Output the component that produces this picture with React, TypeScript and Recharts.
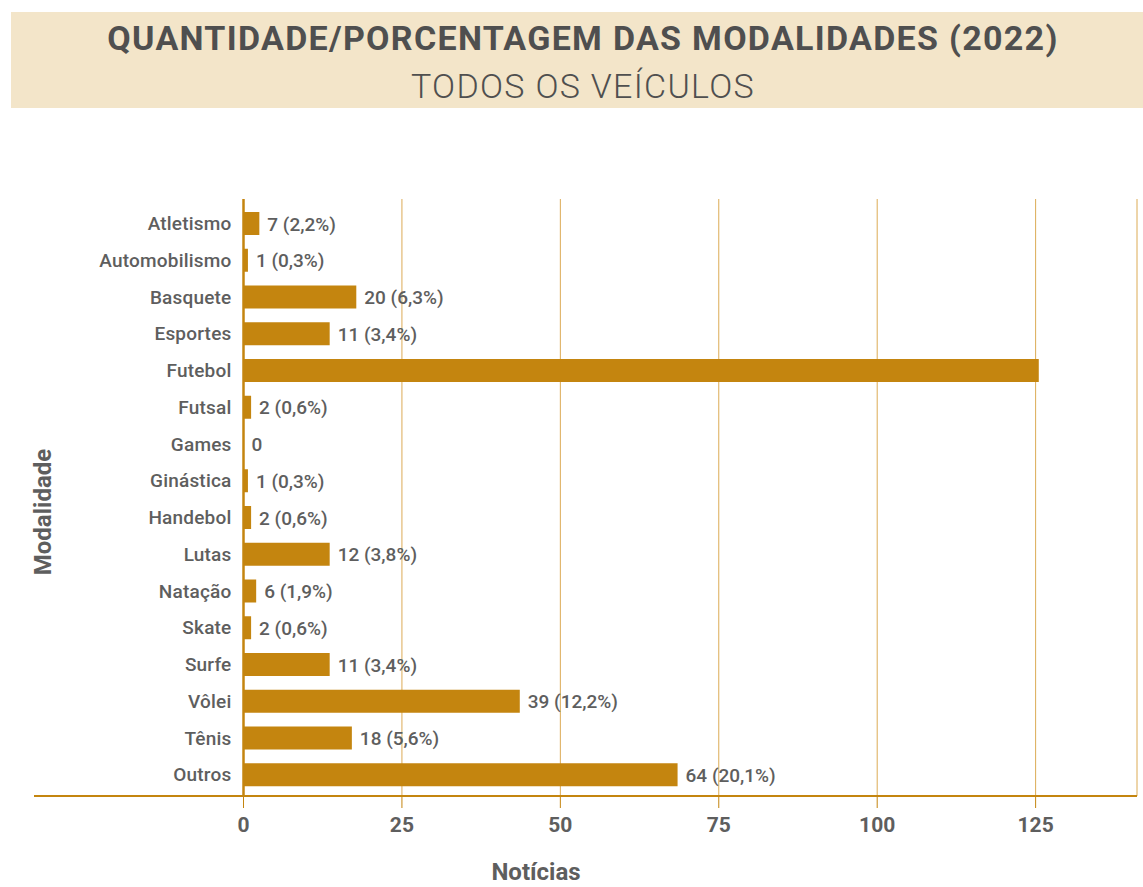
import { Bar, BarChart, CartesianGrid, Rectangle, XAxis, YAxis } from "recharts";

const categories = [
  "Atletismo",
  "Automobilismo",
  "Basquete",
  "Esportes",
  "Futebol",
  "Futsal",
  "Games",
  "Ginástica",
  "Handebol",
  "Lutas",
  "Natação",
  "Skate",
  "Surfe",
  "Vôlei",
  "Tênis",
  "Outros",
];

// bar lengths as drawn in the reference
const barValues = [2.5, 0.7, 17.8, 13.6, 125.5, 1.2, 0, 0.7, 1.2, 13.6, 2.0, 1.2, 13.6, 43.6, 17.1, 68.5];

const valueLabels = [
  "7 (2,2%)",
  "1 (0,3%)",
  "20 (6,3%)",
  "11 (3,4%)",
  "",
  "2 (0,6%)",
  "0",
  "1 (0,3%)",
  "2 (0,6%)",
  "12 (3,8%)",
  "6 (1,9%)",
  "2 (0,6%)",
  "11 (3,4%)",
  "39 (12,2%)",
  "18 (5,6%)",
  "64 (20,1%)",
];

const xTicks = [0, 25, 50, 75, 100, 125];

const GOLD = "#c4850f";
const GRID = "#dcab55";
const TEXT = "#5e5e5e";
const FONT = "Roboto, 'Noto Sans', sans-serif";

const data = categories.map((name, i) => ({
  name,
  value: barValues[i],
  label: valueLabels[i],
}));

// bar plus its value label, so the zero-length bar still gets its "0"
function BarWithLabel(props: any) {
  const { x, y, width, height, payload, fill } = props;
  const w = Number(width) || 0;
  return (
    <g>
      {w > 0 && <Rectangle x={x} y={y} width={w} height={height} fill={fill} />}
      {payload?.label ? (
        <text
          x={Number(x) + w + 8}
          y={Number(y) + Number(height) / 2 + 2}
          dominantBaseline="middle"
          fontFamily={FONT}
          fontSize={19}
          fontWeight={500}
          fill={TEXT}
        >
          {payload.label}
        </text>
      ) : null}
    </g>
  );
}

export default function App() {
  return (
    <div
      style={{
        position: "absolute",
        left: 0,
        top: 0,
        width: 1143,
        height: 887,
        background: "#fff",
        fontFamily: FONT,
        color: TEXT,
        overflow: "hidden",
      }}
    >
      <div
        style={{
          position: "absolute",
          left: 11,
          top: 12,
          width: 1132,
          height: 96,
          background: "#f3e5c9",
        }}
      />
      <div
        style={{
          position: "absolute",
          left: 0,
          width: 1166,
          top: 17,
          textAlign: "center",
          fontSize: 34,
          fontWeight: 700,
          letterSpacing: 1.3,
          color: "#4f4f4f",
          lineHeight: "42px",
        }}
      >
        QUANTIDADE/PORCENTAGEM DAS MODALIDADES (2022)
      </div>
      <div
        style={{
          position: "absolute",
          left: 0,
          width: 1166,
          top: 65,
          textAlign: "center",
          fontSize: 34,
          fontWeight: 300,
          letterSpacing: 1.3,
          color: "#4f4f4f",
          lineHeight: "42px",
        }}
      >
        TODOS OS VEÍCULOS
      </div>

      <div style={{ position: "absolute", left: 0, top: 0 }}>
        <BarChart
          width={1143}
          height={887}
          data={data}
          layout="vertical"
          margin={{ top: 199, right: 6, bottom: 0, left: 0 }}
        >
          <CartesianGrid horizontal={false} stroke={GRID} strokeWidth={1} />
          <XAxis
            type="number"
            domain={[0, 141]}
            ticks={xTicks}
            height={91}
            axisLine={false}
            tickLine={{ stroke: GOLD, strokeWidth: 1 }}
            tickSize={12}
            tickMargin={9}
            tick={{ fontFamily: FONT, fontSize: 21, fontWeight: 700, fill: TEXT }}
          />
          <YAxis
            type="category"
            dataKey="name"
            width={243.5}
            interval={0}
            axisLine={{ stroke: GOLD, strokeWidth: 2.5 }}
            tickLine={false}
            tickSize={0}
            tickMargin={12}
            padding={{ top: 6, bottom: 3 }}
            tick={{ fontFamily: FONT, fontSize: 19, fontWeight: 500, fill: TEXT, letterSpacing: 0.2 }}
          />
          <Bar
            dataKey="value"
            fill={GOLD}
            barSize={23}
            shape={<BarWithLabel />}
            isAnimationActive={false}
          />
        </BarChart>
      </div>

      <div
        style={{
          position: "absolute",
          left: 34,
          top: 795,
          width: 1103,
          height: 2,
          background: GOLD,
        }}
      />
      <div
        style={{
          position: "absolute",
          left: 43,
          top: 512,
          transform: "translate(-50%, -50%) rotate(-90deg)",
          fontSize: 24,
          fontWeight: 700,
          lineHeight: 1,
          whiteSpace: "nowrap",
        }}
      >
        Modalidade
      </div>
      <div
        style={{
          position: "absolute",
          left: 536,
          top: 860,
          transform: "translateX(-50%)",
          fontSize: 24,
          fontWeight: 700,
          lineHeight: 1,
          whiteSpace: "nowrap",
        }}
      >
        Notícias
      </div>
    </div>
  );
}
